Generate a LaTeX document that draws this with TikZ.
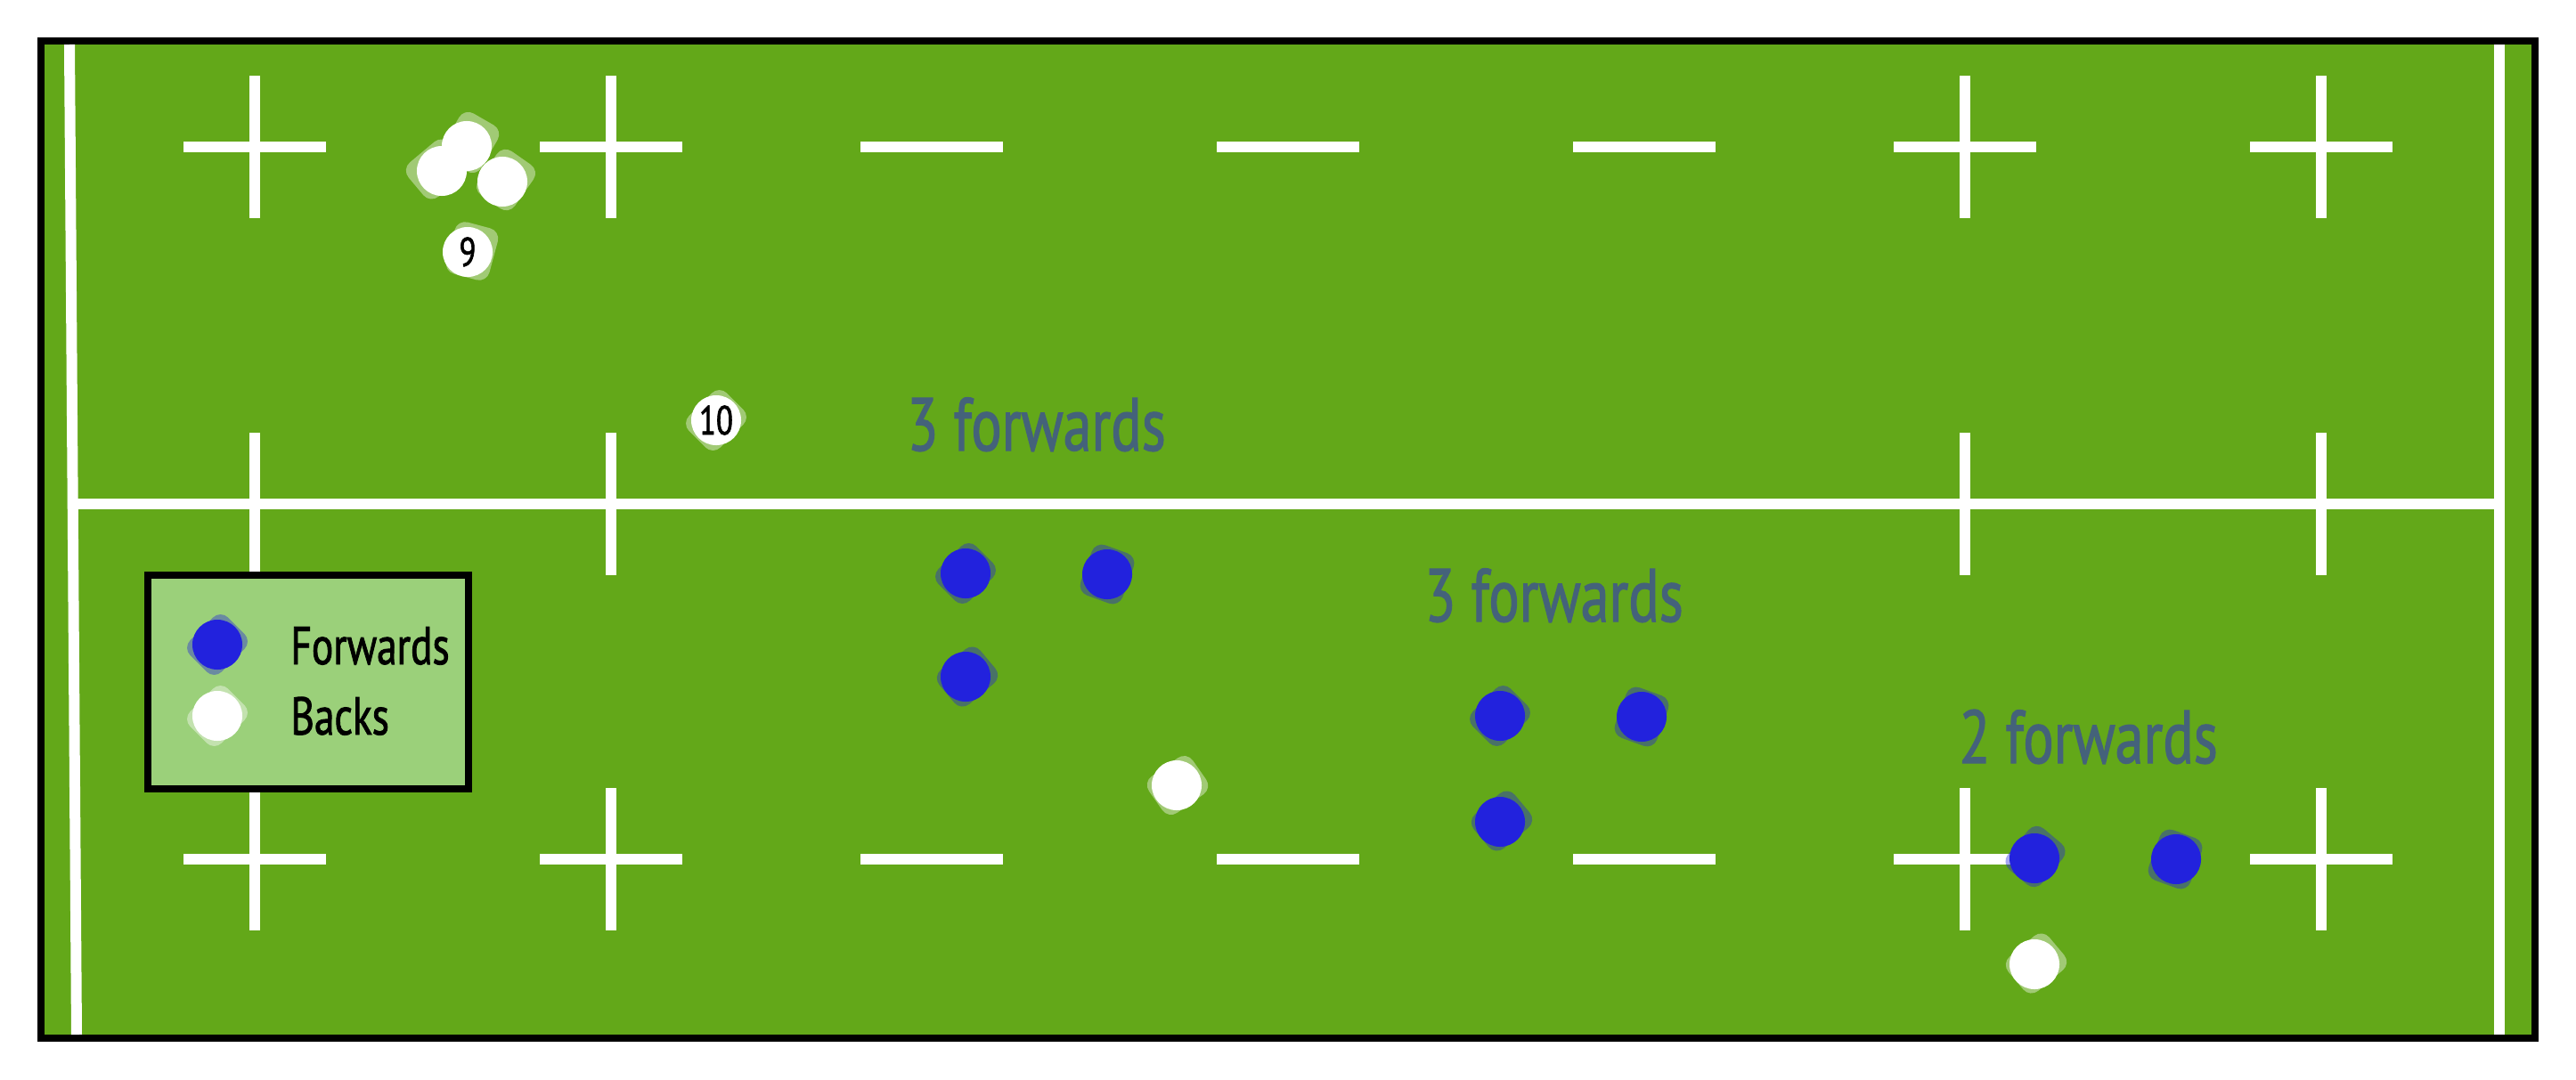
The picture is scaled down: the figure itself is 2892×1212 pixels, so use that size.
\documentclass[tikz,border=0pt]{standalone}
\usepackage{fontspec}
\setmainfont{PT Sans}[FakeStretch=0.76,FakeBold=1.4]
\usepackage{tikz}

\definecolor{pitch}{RGB}{99,168,25}
\definecolor{legendbg}{RGB}{155,208,122}
\definecolor{fwdblue}{RGB}{34,34,221}
\definecolor{labelgrey}{RGB}{68,98,122}

\begin{document}
\begin{tikzpicture}[x=0.01cm,y=-0.01cm,
   fwd/.style={circle,fill=fwdblue,minimum size=0.56cm,inner sep=0pt},
   bck/.style={circle,fill=white,minimum size=0.56cm,inner sep=0pt,font=\fontsize{13}{14}\selectfont},
   fwdshade/.style={rectangle,rounded corners=0.12cm,fill=fwdblue,fill opacity=0.4,minimum width=0.6cm,minimum height=0.5cm,inner sep=0pt},
   bckshade/.style={rectangle,rounded corners=0.12cm,fill=white,fill opacity=0.4,minimum width=0.6cm,minimum height=0.5cm,inner sep=0pt},
   grp label/.style={anchor=base west,text=labelgrey,font=\fontsize{24}{28}\selectfont},
   leg label/.style={anchor=base west,font=\fontsize{17}{20}\selectfont}]

\tikzstyle {pitchline} = [draw=white, line width=0.12cm];

\useasboundingbox (0,0) rectangle (2892,1212);

% pitch
\draw[line width=0.08cm, fill=pitch] (46,46) rectangle (2846,1166);
\draw[pitchline] (78,50) -- (86,1162);
\draw[pitchline] (2806,50) -- (2806,1162);
\draw[pitchline] (83,566) -- (2806,566);

% 15 m line
\draw[pitchline] (206,165) -- (366,165) (286,85) -- (286,245);
\draw[pitchline] (606,165) -- (766,165) (686,85) -- (686,245);
\draw[pitchline] (966,165) -- (1126,165);
\draw[pitchline] (1366,165) -- (1526,165);
\draw[pitchline] (1766,165) -- (1926,165);
\draw[pitchline] (2126,165) -- (2286,165) (2206,85) -- (2206,245);
\draw[pitchline] (2526,165) -- (2686,165) (2606,85) -- (2606,245);

% halfway marks
\draw[pitchline] (286,486) -- (286,646);
\draw[pitchline] (686,486) -- (686,646);
\draw[pitchline] (2206,486) -- (2206,646);
\draw[pitchline] (2606,486) -- (2606,646);

% 5 m line
\draw[pitchline] (206,965) -- (366,965) (286,885) -- (286,1045);
\draw[pitchline] (606,965) -- (766,965) (686,885) -- (686,1045);
\draw[pitchline] (966,965) -- (1126,965);
\draw[pitchline] (1366,965) -- (1526,965);
\draw[pitchline] (1766,965) -- (1926,965);
\draw[pitchline] (2126,965) -- (2286,965) (2206,885) -- (2206,1045);
\draw[pitchline] (2526,965) -- (2686,965) (2606,885) -- (2606,1045);

% legend
\node[draw,line width=0.08cm,fill=legendbg,minimum width=3.6cm,minimum height=2.4cm] (legbox) at (346,766) {};
\node[fwdshade,rotate=45] (legfwds) at (244,724) {};
\node[fwd] (legfwd) at (244,724) {};
\node[bckshade,rotate=45] (legbcks) at (244,804) {};
\node[bck] (legbck) at (244,804) {};
\node[leg label] (legfwdtxt) at (314,746) {Forwards};
\node[leg label] (legbcktxt) at (314,825) {Backs};

% backs
\node[bckshade,rotate=60] (bk1s) at (528,160) {};
\node[bck] (bk1) at (524,164) {};
\node[bckshade,rotate=40] (bk2s) at (490,190) {};
\node[bck] (bk2) at (496,192) {};
\node[bckshade,rotate=55] (bk3s) at (568,202) {};
\node[bck] (bk3) at (564,204) {};
\node[bckshade,rotate=75] (nines) at (530,282) {};
\node[bck] (nine) at (525,283) {9};
\node[bckshade,rotate=45] (tens) at (804,472) {};
\node[bck] (ten) at (804,472) {10};
\node[bckshade,rotate=35] (bk6s) at (1322,882) {};
\node[bck] (bk6) at (1321,882) {};
\node[bckshade,rotate=40] (bk7s) at (2286,1082) {};
\node[bck] (bk7) at (2284,1083) {};

% forwards
\node[fwdshade,rotate=45] (fa1s) at (1084,644) {};
\node[fwd] (fa1) at (1084,644) {};
\node[fwdshade,rotate=70] (fa2s) at (1243,645) {};
\node[fwd] (fa2) at (1243,645) {};
\node[fwdshade,rotate=40] (fa3s) at (1086,760) {};
\node[fwd] (fa3) at (1084,760) {};
\node[fwdshade,rotate=45] (fb1s) at (1684,804) {};
\node[fwd] (fb1) at (1684,804) {};
\node[fwdshade,rotate=70] (fb2s) at (1843,805) {};
\node[fwd] (fb2) at (1843,805) {};
\node[fwdshade,rotate=40] (fb3s) at (1686,922) {};
\node[fwd] (fb3) at (1684,923) {};
\node[fwdshade,rotate=50] (fc1s) at (2285,962) {};
\node[fwd] (fc1) at (2284,964) {};
\node[fwdshade,rotate=70] (fc2s) at (2442,965) {};
\node[fwd] (fc2) at (2443,965) {};

% group labels
\node[grp label] (grpa) at (1006,506) {3 forwards};
\node[grp label] (grpb) at (1587,698) {3 forwards};
\node[grp label] (grpc) at (2187,857) {2 forwards};

\end{tikzpicture}
\end{document}
